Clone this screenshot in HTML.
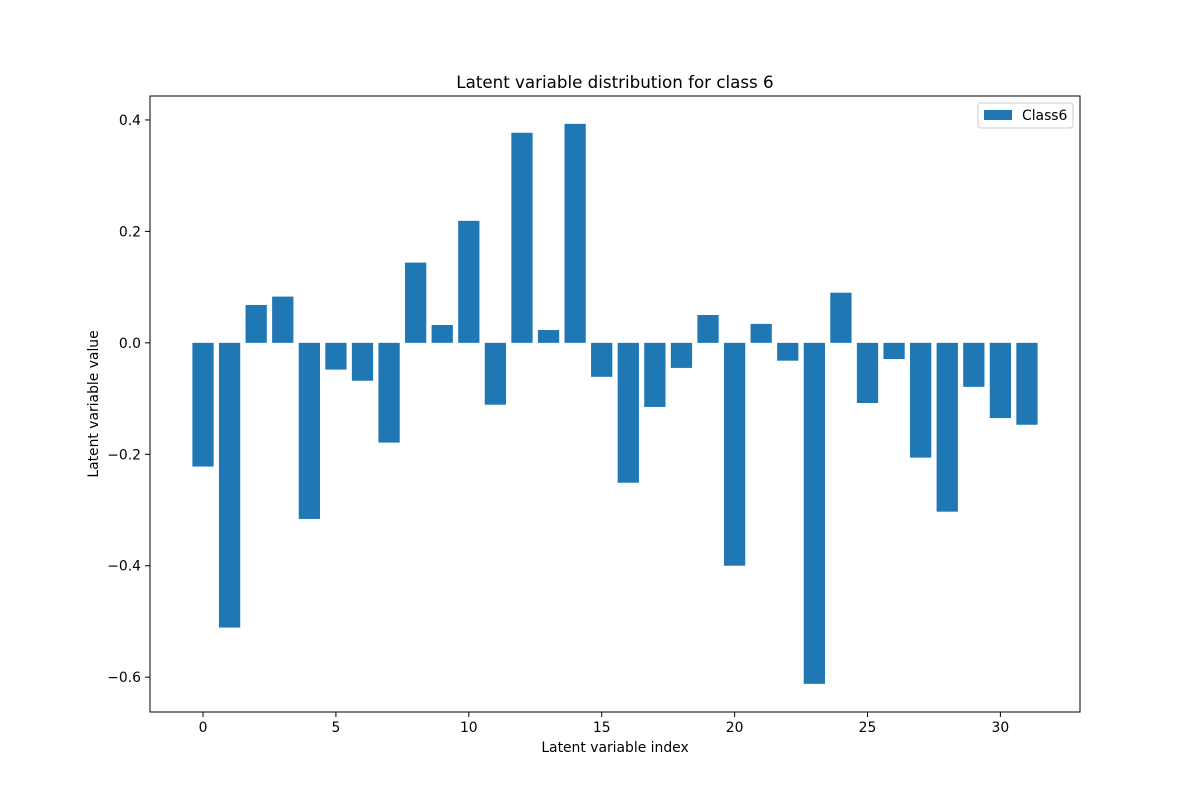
<!DOCTYPE html>
<html><head><meta charset="utf-8"><style>
body{margin:0;background:#fff;font-family:"DejaVu Sans","Liberation Sans",sans-serif}
</style></head><body>
<svg id="chart" width="1200" height="800" xmlns="http://www.w3.org/2000/svg" font-family="DejaVu Sans, Liberation Sans, sans-serif">
<rect width="1200" height="800" fill="#fff"/>
<g id="bars"></g>
<g id="axes"></g>
<rect x="150" y="96" width="930" height="616" fill="none" stroke="#000" stroke-width="1"/>
<text x="615" y="88" font-size="16.7" text-anchor="middle">Latent variable distribution for class 6</text>
<text x="615" y="752" font-size="13.9" text-anchor="middle">Latent variable index</text>
<text transform="translate(98,404) rotate(-90)" font-size="13.9" text-anchor="middle">Latent variable value</text>
<g>
<rect x="978" y="103" width="95" height="25" fill="#fff" stroke="#ccc" rx="3"/>
<rect x="984" y="110" width="28" height="10" fill="#1f77b4"/>
<text x="1022" y="120" font-size="13.9">Class6</text>
</g>
</svg>
<script>
const values=[-0.222,-0.511,0.068,0.083,-0.316,-0.048,-0.068,-0.179,0.144,0.032,0.219,-0.111,0.377,0.023,0.393,-0.061,-0.251,-0.115,-0.045,0.050,-0.400,0.034,-0.032,-0.612,0.090,-0.108,-0.029,-0.206,-0.303,-0.079,-0.135,-0.147];
const xTicks=[0,5,10,15,20,25,30];
const yTicks=[-0.6,-0.4,-0.2,0.0,0.2,0.4];
const NS="http://www.w3.org/2000/svg";
const L=150,R=1080,T=96,B=712;
const xMin=-1.995,xMax=32.995,yMin=-0.6625,yMax=0.443;
const sx=v=>L+(v-xMin)/(xMax-xMin)*(R-L);
const sy=v=>B-(v-yMin)/(yMax-yMin)*(B-T);
const bars=document.getElementById('bars');
values.forEach((v,i)=>{
 const r=document.createElementNS(NS,'rect');
 const x0=sx(i-0.4),x1=sx(i+0.4);
 const y0=sy(Math.max(v,0)),y1=sy(Math.min(v,0));
 r.setAttribute('x',x0);r.setAttribute('width',x1-x0);
 r.setAttribute('y',y0);r.setAttribute('height',y1-y0);
 r.setAttribute('fill','#1f77b4');
 
 
 bars.appendChild(r);
});
const axes=document.getElementById('axes');
xTicks.forEach(t=>{
 const x=sx(t);
 const l=document.createElementNS(NS,'line');
 l.setAttribute('x1',x);l.setAttribute('x2',x);l.setAttribute('y1',B);l.setAttribute('y2',B+5);l.setAttribute('stroke','#000');
 
 
 axes.appendChild(l);
 const s=document.createElementNS(NS,'text');
 s.setAttribute('x',x);s.setAttribute('y',B+20);s.setAttribute('font-size','13.9');s.setAttribute('text-anchor','middle');
 s.textContent=t;
 
 
 axes.appendChild(s);
});
yTicks.forEach(t=>{
 const y=sy(t);
 const l=document.createElementNS(NS,'line');
 l.setAttribute('x1',L-5);l.setAttribute('x2',L);l.setAttribute('y1',y);l.setAttribute('y2',y);l.setAttribute('stroke','#000');
 
 
 axes.appendChild(l);
 const s=document.createElementNS(NS,'text');
 s.setAttribute('x',L-9);s.setAttribute('y',y+5);s.setAttribute('font-size','13.9');s.setAttribute('text-anchor','end');
 s.textContent=(t<0?'\u2212':'')+Math.abs(t).toFixed(1);
 
 
 axes.appendChild(s);
});
</script>
</body></html>
